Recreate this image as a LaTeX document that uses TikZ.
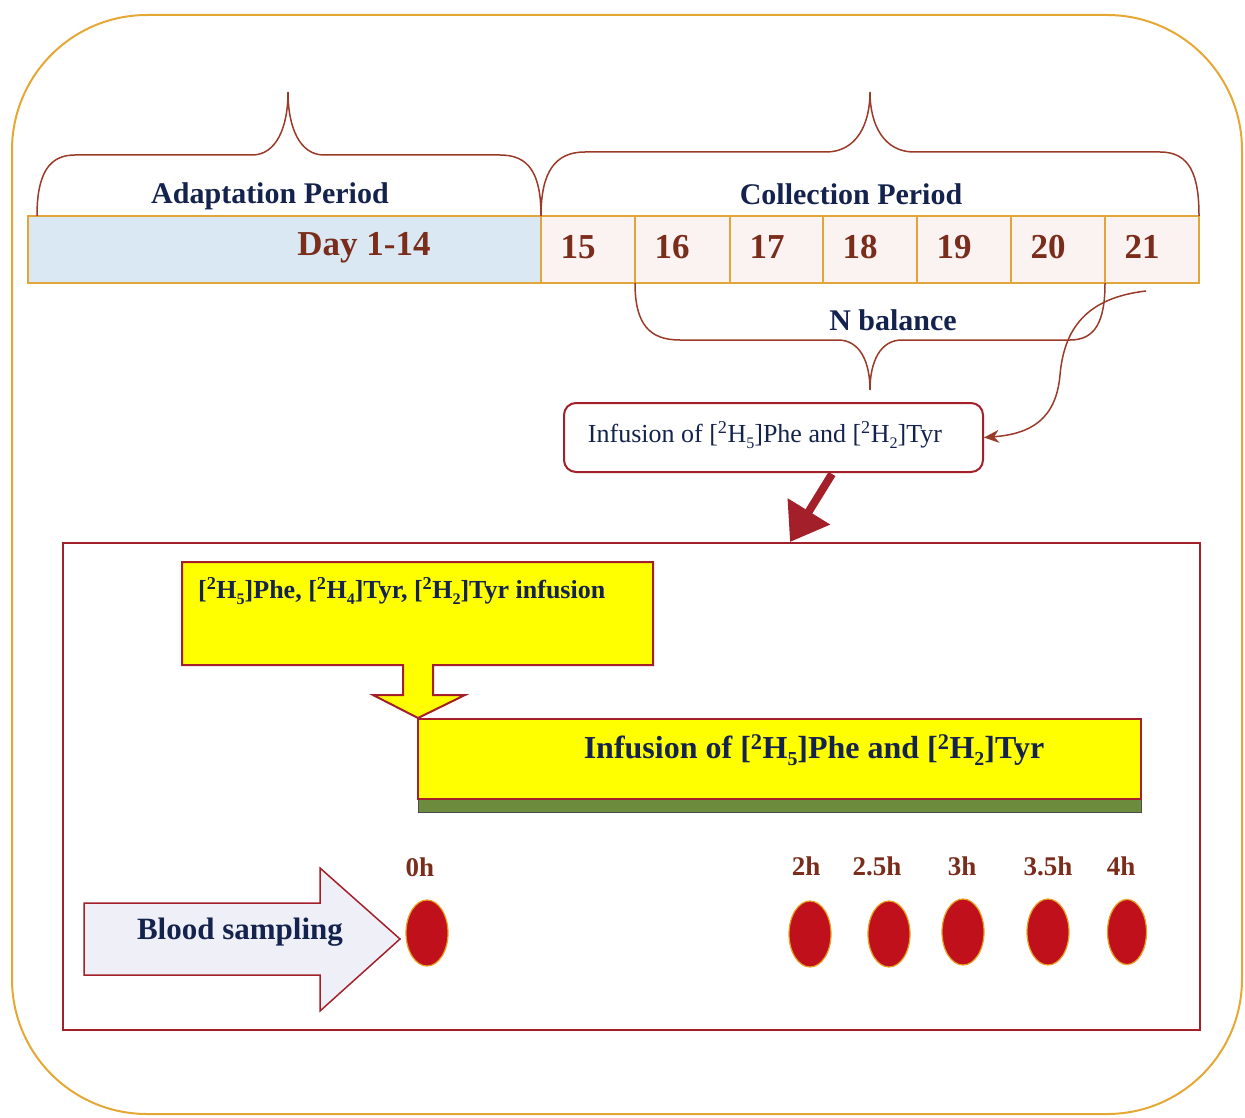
\documentclass[tikz,border=0pt]{standalone}
\usepackage{fontspec}
\setmainfont{Liberation Serif}
\usetikzlibrary{shapes.geometric,arrows.meta}
\definecolor{navy}{HTML}{14234D}
\definecolor{brn}{HTML}{7B2D1C}
\definecolor{gold}{HTML}{E2A53A}
\definecolor{framec}{HTML}{E6A835}
\definecolor{bracec}{HTML}{9A3B2A}
\definecolor{dred}{HTML}{A3202A}
\definecolor{lblue}{HTML}{DAE8F4}
\definecolor{lpink}{HTML}{FBF2F2}
\definecolor{yel}{HTML}{FFFF00}
\definecolor{grn}{HTML}{6D8B3C}
\definecolor{dotc}{HTML}{C0101C}
\definecolor{dotedge}{HTML}{E8A020}
\definecolor{lav}{HTML}{EFEFF7}
\newcommand\mysub[1]{\raisebox{-0.22em}{\scalebox{0.62}{#1}}}
\newcommand\iso[1]{[\textsuperscript{2}H\mysub{#1}]}
\tikzset{
  ttl/.style={font=\fontsize{30}{36}\selectfont\bfseries, text=navy, inner sep=0},
  num/.style={font=\fontsize{35}{40}\selectfont\bfseries, text=brn, inner sep=0},
  cellbox/.style={draw=gold, line width=2, fill=lpink, minimum height=67, inner sep=0},
  bracest/.style={draw=bracec, line width=1.5},
  hlab/.style={font=\fontsize{27}{30}\selectfont\bfseries, text=brn, inner sep=0},
  dotst/.style={ellipse, fill=dotc, draw=dotedge, line width=1.2, minimum width=42, minimum height=66, inner sep=0},
}
\begin{document}
\begin{tikzpicture}[x=1pt,y=-1pt]
\useasboundingbox (0,0) rectangle (1245,1118);
% outer frame
\draw[framec, line width=2, rounded corners=135] (12,15) rectangle (1242,1114);
% top bar
\node[cellbox, fill=lblue, minimum width=513] (day) at (284.5,249.5) {};
\node[num] (daytxt) at (364,248) {Day 1-14};
\foreach \l/\r/\n in {541/635/15,635/730/16,730/823/17,823/917/18,917/1011/19,1011/1105/20,1105/1199/21}{
  \node[cellbox, minimum width={\r-\l}] (c\n) at ({(\l+\r)/2},249.5) {};
  \node[num] (t\n) at ({\l+37},247) {\n};
}
% braces
\draw[bracest] (37,216) .. controls (37,172) and (50,155) .. (75,155) -- (252,155) .. controls (276,155) and (288,128) .. (288,92) .. controls (288,128) and (300,155) .. (324,155) -- (500,155) .. controls (528,155) and (541,172) .. (541,216);
\draw[bracest] (541,216) .. controls (541,172) and (555,152) .. (585,152) -- (826,152) .. controls (856,152) and (870,125) .. (870,92) .. controls (870,125) and (884,152) .. (914,152) -- (1160,152) .. controls (1190,152) and (1199,175) .. (1199,216);
\draw[bracest] (635,283) .. controls (635,325) and (650,340) .. (680,340) -- (838,340) .. controls (860,340) and (870,362) .. (870,390) .. controls (870,362) and (880,340) .. (902,340) -- (1070,340) .. controls (1095,340) and (1105,322) .. (1105,283);
\node[ttl] (adapt) at (270,196) {Adaptation Period};
\node[ttl] (coll) at (851,194) {Collection Period};
\node[ttl] (nbal) at (893,320) {N balance};
% small infusion box
\node[draw=dred, line width=2, rounded corners=12, fill=white, minimum width=419, minimum height=69, inner sep=0] (inf) at (773.5,437.5) {};
\node[font=\fontsize{26}{30}\selectfont, text=navy, inner sep=0] (inftxt) at (765,435) {Infusion of \iso{5}Phe and \iso{2}Tyr};
\coordinate (cs) at (1146,291);
\draw[bracest, -{Stealth[length=15pt,width=13pt]}] (cs) .. controls (1085,298) and (1064,330) .. (1060,375) .. controls (1056,420) and (1030,434) .. (inf.east);
% big box
\node[draw=dred, line width=1.5, fill=white, minimum width=1137, minimum height=487, inner sep=0] (big) at (631.5,786.5) {};
\coordinate (bt) at (790,542);
\coordinate (bs) at (832,474);
\draw[dred, line width=8, -{Triangle[length=36pt,width=48pt]}] (bs) -- (bt);
% yellow box with block arrow
\draw[fill=yel, draw=dred, line width=2] (182,562) -- (653,562) -- (653,665) -- (433,665) -- (433,695) -- (465,695) -- (418,718) -- (373,695) -- (403,695) -- (403,665) -- (182,665) -- cycle;
\node[font=\fontsize{26}{30}\selectfont\bfseries, text=navy, inner sep=0, anchor=west] (ytxt) at (198,591) {\iso{5}Phe, \iso{4}Tyr, \iso{2}Tyr infusion};
% big yellow bar
\node[fill=grn, draw=black!70, line width=1, minimum width=723, minimum height=14, inner sep=0] (gstrip) at (779.5,805) {};
\node[fill=yel, draw=dred, line width=2.5, minimum width=723, minimum height=80, inner sep=0] (ybar) at (779.5,759) {};
\node[font=\fontsize{32}{36}\selectfont\bfseries, text=navy, inner sep=0] (ybtxt) at (814,750) {Infusion of \iso{5}Phe and \iso{2}Tyr};
% blood sampling arrow
\draw[fill=lav, draw=dred, line width=1.5] (84,903) -- (320,903) -- (320,868) -- (400,939) -- (320,1011) -- (320,975) -- (84,975) -- cycle;
\node[font=\fontsize{31}{34}\selectfont\bfseries, text=navy, inner sep=0] (blood) at (240,932) {Blood sampling};
% dots and labels
\node[dotst] (d0) at (427,933) {};
\node[dotst] (d2) at (810,934) {};
\node[dotst] (d25) at (889,934) {};
\node[dotst] (d3) at (963,932) {};
\node[dotst] (d35) at (1048,932) {};
\node[dotst, minimum width=39, minimum height=65] (d4) at (1127,932) {};
\node[hlab] (l0) at (420,867) {0h};
\node[hlab] (l2) at (806,866) {2h};
\node[hlab] (l25) at (877,866) {2.5h};
\node[hlab] (l3) at (962,866) {3h};
\node[hlab] (l35) at (1048,866) {3.5h};
\node[hlab] (l4) at (1121,866) {4h};
\end{tikzpicture}
\end{document}
